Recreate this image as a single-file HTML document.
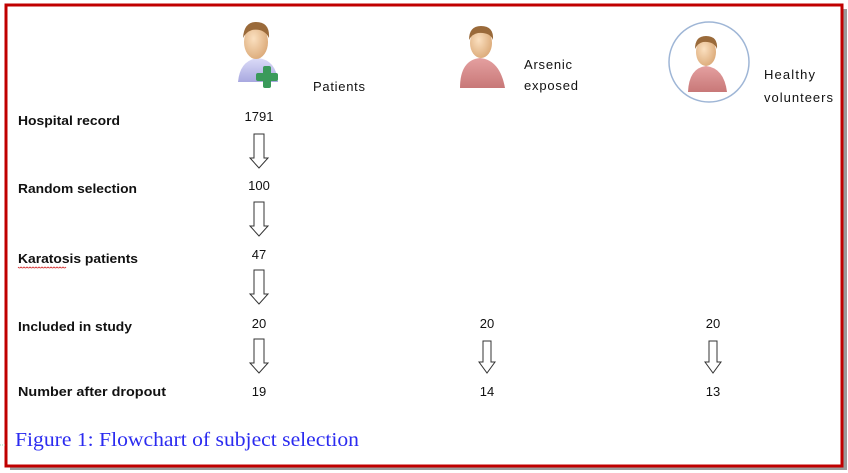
<!DOCTYPE html>
<html><head><style>
html,body{margin:0;padding:0;background:#fff;}
svg{display:block;}
text{font-family:"Liberation Sans",sans-serif;}
.b{font-weight:bold;font-size:13px;fill:#111;}
.n{font-size:13px;fill:#111;}
</style></head><body>
<svg width="848" height="473" viewBox="0 0 848 473" xmlns="http://www.w3.org/2000/svg">
<defs>
<radialGradient id="face" cx="0.4" cy="0.4" r="0.7"><stop offset="0" stop-color="#fbe0c0"/><stop offset="1" stop-color="#d9a673"/></radialGradient>
<linearGradient id="shirt" x1="0" y1="0" x2="0" y2="1"><stop offset="0" stop-color="#e4a0a0"/><stop offset="1" stop-color="#c87878"/></linearGradient>
<linearGradient id="shirtb" x1="0" y1="0" x2="0" y2="1"><stop offset="0" stop-color="#dcdcf8"/><stop offset="1" stop-color="#a8a8e0"/></linearGradient>
</defs>
<rect x="10" y="9" width="837" height="461" fill="#9a9a9a"/>
<rect x="6" y="5" width="836" height="461" fill="#fff" stroke="#c00000" stroke-width="3"/>
<line x1="0" y1="445" x2="6" y2="445" stroke="#9db" stroke-dasharray="1 1"/>

<g>
<path d="M238 82 Q240 60 258 58 Q276 60 278 82 Z" fill="url(#shirtb)"/>
<ellipse cx="256" cy="42" rx="12" ry="17" fill="url(#face)"/>
<path d="M243 38 Q244 22 256 22 Q270 22 269 38 Q264 28 252 30 Q246 32 243 38Z" fill="#9a6a3a"/>
<rect x="263" y="66" width="8" height="22" rx="2" fill="#3a9a5a"/>
<rect x="256" y="73" width="22" height="8" rx="2" fill="#3a9a5a"/>
</g>
<text class="n" x="313" y="91" textLength="52">Patients</text>

<g>
<path d="M460 88 Q460 60 480 58 Q500 60 505 88 Z" fill="url(#shirt)"/>
<ellipse cx="481" cy="43" rx="11" ry="15" fill="url(#face)"/>
<path d="M469 40 Q469 26 481 26 Q494 26 493 40 Q490 32 478 33 Q472 34 469 40Z" fill="#9a6a3a"/>
</g>
<text class="n" x="524" y="69" textLength="48">Arsenic</text>
<text class="n" x="524" y="90" textLength="54">exposed</text>

<circle cx="709" cy="62" r="40" fill="#fff" stroke="#9fb6d6" stroke-width="1.5"/>
<g>
<path d="M688 92 Q689 68 706 66 Q724 68 727 92 Z" fill="url(#shirt)"/>
<ellipse cx="706" cy="52" rx="10" ry="14" fill="url(#face)"/>
<path d="M695 49 Q695 36 706 36 Q718 36 717 49 Q714 41 703 42 Q698 43 695 49Z" fill="#9a6a3a"/>
</g>
<text class="n" x="764" y="79" textLength="51">Healthy</text>
<text class="n" x="764" y="102" textLength="69">volunteers</text>

<text class="b" x="18" y="125" textLength="102" lengthAdjust="spacingAndGlyphs">Hospital record</text>
<text class="b" x="18" y="193" textLength="119" lengthAdjust="spacingAndGlyphs">Random selection</text>
<text class="b" x="18" y="263" textLength="120" lengthAdjust="spacingAndGlyphs">Karatosis patients</text>
<path d="M18 267 q1.5 2 3 0 q1.5 2 3 0 q1.5 2 3 0 q1.5 2 3 0 q1.5 2 3 0 q1.5 2 3 0 q1.5 2 3 0 q1.5 2 3 0 q1.5 2 3 0 q1.5 2 3 0 q1.5 2 3 0 q1.5 2 3 0 q1.5 2 3 0 q1.5 2 3 0 q1.5 2 3 0 q1.5 2 3 0" fill="none" stroke="#d02020" stroke-width="0.8"/>
<text class="b" x="18" y="331" textLength="114" lengthAdjust="spacingAndGlyphs">Included in study</text>
<text class="b" x="18" y="396" textLength="148" lengthAdjust="spacingAndGlyphs">Number after dropout</text>

<g text-anchor="middle">
<text class="n" x="259" y="121">1791</text>
<text class="n" x="259" y="190">100</text>
<text class="n" x="259" y="259">47</text>
<text class="n" x="259" y="328">20</text>
<text class="n" x="259" y="396">19</text>
<text class="n" x="487" y="328">20</text>
<text class="n" x="487" y="396">14</text>
<text class="n" x="713" y="328">20</text>
<text class="n" x="713" y="396">13</text>
</g>

<g fill="#fff" stroke="#333" stroke-width="1">
<path d="M254 134 H264 V158 H268 L259 168 L250 158 H254 Z"/>
<path d="M254 202 H264 V226 H268 L259 236 L250 226 H254 Z"/>
<path d="M254 270 H264 V294 H268 L259 304 L250 294 H254 Z"/>
<path d="M254 339 H264 V363 H268 L259 373 L250 363 H254 Z"/>
<path d="M483 341 H491 V362 H495 L487 373 L479 362 H483 Z"/>
<path d="M709 341 H717 V362 H721 L713 373 L705 362 H709 Z"/>
</g>

<text x="15" y="446" textLength="344" lengthAdjust="spacingAndGlyphs" style="font-family:'Liberation Serif',serif;font-size:20px;fill:#2b2bf0">Figure 1: Flowchart of subject selection</text>
</svg>
</body></html>
